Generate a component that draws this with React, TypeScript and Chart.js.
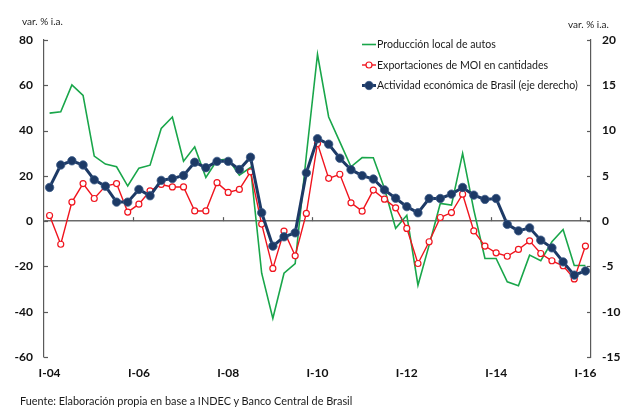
import React, { useEffect, useRef } from "react";
import { Chart, registerables } from "chart.js";

Chart.register(...registerables);

const years = ["04","05","06","07","08","09","10","11","12","13","14","15","16"];
const quarterNames = ["I", "II", "III", "IV"];
const categories: string[] = [];
years.forEach((y, yi) => {
  quarterNames.forEach((q, qi) => {
    if (yi === years.length - 1 && qi > 0) return;
    categories.push(q + "-" + y);
  });
});

const autos = [
  47.7, 48.3, 60.2, 55.5, 28.7, 25.2, 24.0, 15.5, 23.4, 24.7, 40.9, 46.0,
  26.5, 32.8, 19.3, 26.9, 27.4, 20.3, 23.7, -23.0, -43.0, -23.0, -18.7, 29.0,
  73.7, 46.0, 35.0, 24.0, 28.1, 28.0, 14.4, -3.2, 2.6, -28.3, -10.6, 7.8,
  7.1, 29.9, 5.0, -16.5, -16.5, -26.8, -28.5, -15.0, -17.5, -9.1, -3.7, -19.6,
  -19.6,
];

const exportsMOI = [
  2.5, -10.2, 8.4, 16.6, 10.0, 15.5, 16.6, 4.0, 7.5, 13.4, 16.2, 15.1,
  15.1, 4.5, 4.5, 17.0, 12.7, 14.0, 21.8, -1.3, -20.9, -4.4, -15.3, 3.4,
  34.3, 18.9, 20.7, 8.1, 4.4, 13.7, 9.7, 5.9, -3.2, -18.7, -9.1, 1.6,
  3.8, 11.9, -4.3, -11.0, -14.0, -15.5, -12.5, -8.7, -14.3, -17.5, -19.7, -25.5,
  -11.0,
];

const activityBrazil = [
  3.72, 6.2, 6.66, 6.2, 4.56, 3.86, 2.1, 2.1, 3.5, 2.8, 4.5, 4.7,
  5.04, 6.5, 5.9, 6.6, 6.6, 5.7, 7.06, 0.92, -2.76, -1.73, -1.29, 5.33,
  9.1, 8.5, 6.95, 5.68, 5.03, 4.65, 3.45, 2.53, 1.6, 0.92, 2.5, 2.5,
  2.98, 3.72, 2.87, 2.4, 2.5, -0.36, -1.07, -0.74, -2.1, -2.95, -4.5, -5.96,
  -5.5,
];

const seriesNames = [
  "Producción local de autos",
  "Exportaciones de MOI en cantidades",
  "Actividad económica de Brasil (eje derecho)",
];

const leftTicks = { min: -60, max: 80, step: 20 };
const rightTicks = { min: -15, max: 20, step: 5 };
const labelEvery = 8;

const GREEN = "#19a64a";
const RED = "#f0141e";
const NAVY = "#1d3a66";
const AXIS = "#5a5a5a";
const FONT = "Lato, 'Open Sans', sans-serif";

const decorPlugin = {
  id: "decor",
  afterDatasetsDraw(chart: any) {
    const { ctx, chartArea, scales } = chart;
    const x = scales.x;
    const y = scales.y;
    const y1 = scales.y1;
    ctx.save();
    ctx.strokeStyle = AXIS;
    ctx.lineWidth = 1.2;
    for (let v = leftTicks.min; v <= leftTicks.max; v += leftTicks.step) {
      const py = Math.round(y.getPixelForValue(v)) + 0.5;
      ctx.beginPath();
      ctx.moveTo(chartArea.left, py);
      ctx.lineTo(chartArea.left + 4, py);
      ctx.stroke();
    }
    for (let v = rightTicks.min; v <= rightTicks.max; v += rightTicks.step) {
      const py = Math.round(y1.getPixelForValue(v)) + 0.5;
      ctx.beginPath();
      ctx.moveTo(chartArea.right - 4, py);
      ctx.lineTo(chartArea.right, py);
      ctx.stroke();
    }
    const zy = y.getPixelForValue(0);
    for (let i = labelEvery; i < categories.length; i += labelEvery) {
      const px = Math.round((x.getPixelForValue(i - 1) + x.getPixelForValue(i)) / 2) + 0.5;
      ctx.beginPath();
      ctx.moveTo(px, zy);
      ctx.lineTo(px, zy - 4);
      ctx.stroke();
    }
    ctx.restore();

    ctx.save();
    const lx0 = 362;
    const lx1 = 376;
    chart.data.datasets.forEach((ds: any, i: number) => {
      const ly = 44.5 + 20.5 * i;
      ctx.strokeStyle = ds.borderColor;
      ctx.lineWidth = ds.borderWidth;
      ctx.beginPath();
      ctx.moveTo(lx0, ly);
      ctx.lineTo(lx1, ly);
      ctx.stroke();
      if (ds.pointRadius > 0) {
        ctx.beginPath();
        ctx.arc((lx0 + lx1) / 2, ly, ds.pointRadius, 0, Math.PI * 2);
        ctx.fillStyle = ds.pointBackgroundColor;
        ctx.fill();
        ctx.lineWidth = ds.pointBorderWidth;
        ctx.strokeStyle = ds.pointBorderColor;
        ctx.stroke();
      }
      ctx.fillStyle = "#1a1a1a";
      ctx.font = "10.6px " + FONT;
      ctx.textBaseline = "middle";
      ctx.textAlign = "left";
      ctx.fillText(ds.label, lx1 + 1, ly + 0.5);
    });
    ctx.restore();
  },
};

export default function App() {
  const canvasRef = useRef<HTMLCanvasElement | null>(null);

  useEffect(() => {
    if (!canvasRef.current) return;
    const chart = new Chart(canvasRef.current, {
      type: "line",
      data: {
        labels: categories,
        datasets: [
          {
            label: seriesNames[0],
            data: autos,
            yAxisID: "y",
            borderColor: GREEN,
            borderWidth: 1.6,
            pointRadius: 0,
            pointHoverRadius: 0,
            pointBackgroundColor: GREEN,
            pointBorderColor: GREEN,
            pointBorderWidth: 0,
            tension: 0,
            order: 3,
          },
          {
            label: seriesNames[1],
            data: exportsMOI,
            yAxisID: "y",
            borderColor: RED,
            borderWidth: 1.4,
            pointRadius: 3,
            pointBackgroundColor: "#ffffff",
            pointBorderColor: RED,
            pointBorderWidth: 1.2,
            tension: 0,
            order: 2,
          },
          {
            label: seriesNames[2],
            data: activityBrazil,
            yAxisID: "y1",
            borderColor: NAVY,
            borderWidth: 3,
            pointRadius: 4.2,
            pointBackgroundColor: NAVY,
            pointBorderColor: "#3b5a88",
            pointBorderWidth: 0.8,
            tension: 0,
            order: 1,
          },
        ],
      },
      options: {
        responsive: false,
        animation: false,
        devicePixelRatio: 1,
        layout: { padding: { top: 40, left: 0, right: 0, bottom: 0 } },
        plugins: {
          legend: { display: false },
          tooltip: { enabled: false },
        },
        scales: {
          x: {
            type: "category",
            offset: true,
            grid: { display: false, drawTicks: false, tickLength: 0, offset: true },
            border: { display: false },
            ticks: {
              autoSkip: false,
              maxRotation: 0,
              minRotation: 0,
              padding: 9,
              color: "#111",
              font: { family: FONT, size: 12, weight: "bold" },
              callback: (_v: any, i: number) => (i % labelEvery === 0 ? categories[i] : ""),
            },
            afterFit: (s: any) => {
              s.height = 53;
            },
          },
          y: {
            position: "left",
            min: leftTicks.min,
            max: leftTicks.max,
            ticks: {
              stepSize: leftTicks.step,
              padding: 11,
              color: "#111",
              font: { family: FONT, size: 12, weight: "bold" },
            },
            grid: {
              drawTicks: false,
              tickLength: 0,
              lineWidth: 1.4,
              color: (c: any) => (c.tick && c.tick.value === 0 ? "#6a6a6a" : "rgba(0,0,0,0)"),
            },
            border: { display: true, color: AXIS, width: 1.2 },
            afterFit: (s: any) => {
              s.width = 44;
            },
          },
          y1: {
            position: "right",
            min: rightTicks.min,
            max: rightTicks.max,
            ticks: {
              stepSize: rightTicks.step,
              padding: 11,
              color: "#111",
              font: { family: FONT, size: 12, weight: "bold" },
            },
            grid: { display: false, drawTicks: false, tickLength: 0 },
            border: { display: true, color: AXIS, width: 1.2 },
            afterFit: (s: any) => {
              s.width = 39;
            },
          },
        },
      },
      plugins: [decorPlugin],
    } as any);
    return () => chart.destroy();
  }, []);

  const textStyle: React.CSSProperties = {
    position: "absolute",
    fontFamily: FONT,
    color: "#1a1a1a",
    whiteSpace: "nowrap",
    lineHeight: 1,
  };

  return (
    <div style={{ position: "fixed", left: 0, top: 0, width: 630, height: 410, background: "#fff", overflow: "hidden" }}>
      <canvas ref={canvasRef} width={630} height={410} style={{ position: "absolute", left: 0, top: 0 }} />
      <div style={{ ...textStyle, left: 22, top: 16, fontSize: 10 }}>var. % i.a.</div>
      <div style={{ ...textStyle, left: 568, top: 19, fontSize: 10 }}>var. % i.a.</div>
      <div style={{ ...textStyle, left: 20, top: 396, fontSize: 10.9 }}>
        Fuente: Elaboración propia en base a INDEC y Banco Central de Brasil
      </div>
    </div>
  );
}
